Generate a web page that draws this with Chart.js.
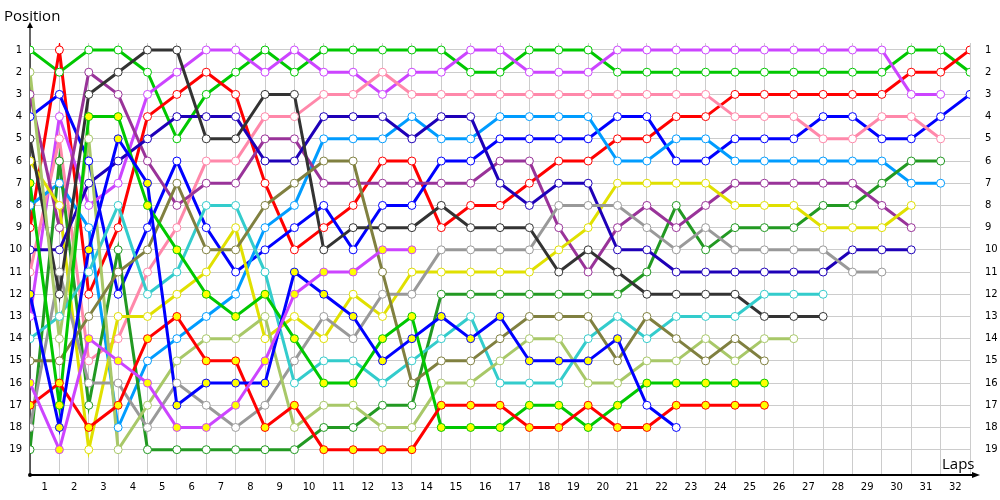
<!DOCTYPE html>
<html>
<head>
<meta charset="utf-8">
<script src="https://cdn.jsdelivr.net/npm/chart.js"></script>
<style>
  html, body { margin: 0; padding: 0; background: #fff; }
  #wrap { width: 1000px; height: 500px; }
</style>
</head>
<body>
<div id="wrap"><canvas id="lapChart"></canvas></div>
<script>
// lap labels under the axis and position labels on both sides
const lapLabels = ['1','2','3','4','5','6','7','8','9','10','11','12','13','14','15','16',
                   '17','18','19','20','21','22','23','24','25','26','27','28','29','30','31','32'];
const posLabels = [1,2,3,4,5,6,7,8,9,10,11,12,13,14,15,16,17,18,19];

// position per lap (index 0 = grid)
const posG1  = [1,2,1,1,2,5,3,2,1,2,1,1,1,1,1,2,2,1,1,1,2,2,2,2,2,2,2,2,2,2,1,1,2];
const posR1  = [9,1,12,9,4,3,2,3,7,10,9,8,6,6,9,8,8,7,6,6,5,5,4,4,3,3,3,3,3,3,2,2,1];
const posB1  = [4,3,6,12,9,6,9,11,10,9,8,10,8,8,6,6,5,5,5,5,4,4,6,6,5,5,5,4,4,5,5,4,3];
const posV1  = [13,4,8,7,3,2,1,1,2,1,2,2,3,2,2,1,1,2,2,2,1,1,1,1,1,1,1,1,1,1,3,3];
const posPK  = [11,5,15,14,11,9,6,6,4,4,3,3,2,3,3,3,3,3,3,3,3,3,3,3,4,4,4,5,5,4,4,5];
const posLB  = [8,7,9,18,15,14,13,12,9,8,5,5,5,4,5,5,4,4,4,4,6,6,5,5,6,6,6,6,6,6,7,7];
const posDG  = [19,6,17,10,19,19,19,19,19,19,18,18,17,17,12,12,12,12,12,12,12,11,8,10,9,9,9,8,8,7,6,6];
const posPU  = [3,9,2,3,6,8,7,7,5,5,7,7,7,7,7,7,6,6,9,11,9,8,9,8,7,7,7,7,7,8,9];
const posY   = [6,8,19,13,13,12,11,9,14,13,14,12,13,11,11,11,11,11,10,9,7,7,7,7,8,8,8,9,9,9,8];
const posDB  = [10,10,7,6,5,4,4,4,6,6,4,4,4,5,4,4,7,8,7,7,10,10,11,11,11,11,11,11,10,10,10];
const posGR  = [18,11,16,16,18,16,17,18,17,15,13,14,12,12,10,10,10,10,8,8,8,9,10,9,10,10,10,10,11,11];
const posK   = [5,12,3,2,1,1,5,5,3,3,10,9,9,9,8,9,9,9,11,10,11,12,12,12,12,13,13,13];
const posC   = [14,13,11,8,12,11,8,8,11,16,15,15,16,15,14,13,16,16,16,14,13,14,13,13,13,12,12,12];
const posLGr = [2,14,5,19,17,15,14,14,13,18,17,17,18,18,16,16,15,14,14,16,16,15,15,14,15,14,14];
const posO   = [15,15,13,11,10,7,10,10,8,7,6,6,11,16,15,15,14,13,13,13,15,13,14,15,14,15];
const posG2  = [7,17,4,4,8,10,12,13,12,14,16,16,14,13,18,18,18,17,17,18,17,16,16,16,16,16];
const posR2  = [17,16,18,17,14,13,15,15,18,17,19,19,19,19,17,17,17,18,18,17,18,18,17,17,17,17];
const posB2  = [12,18,10,5,7,17,16,16,16,11,12,13,15,14,13,14,13,15,15,15,14,17,18];
const posV2  = [16,19,14,15,16,18,18,17,15,12,11,11,10,10];

// line colour, and how many laps get the yellow marker
const drivers = [
  { pos: posV2,  color: '#cc44ff', yellow: 99 },
  { pos: posB2,  color: '#0000ff', yellow: 21 },
  { pos: posR2,  color: '#ff0000', yellow: 99 },
  { pos: posG2,  color: '#00c800', yellow: 99 },
  { pos: posO,   color: '#808040', yellow: 0 },
  { pos: posLGr, color: '#a8c868', yellow: 0 },
  { pos: posC,   color: '#33cccc', yellow: 0 },
  { pos: posK,   color: '#333333', yellow: 0 },
  { pos: posGR,  color: '#999999', yellow: 0 },
  { pos: posDB,  color: '#1e00b8', yellow: 0 },
  { pos: posY,   color: '#e0e000', yellow: 0 },
  { pos: posPU,  color: '#993399', yellow: 0 },
  { pos: posDG,  color: '#229922', yellow: 0 },
  { pos: posLB,  color: '#009cff', yellow: 0 },
  { pos: posPK,  color: '#ff88aa', yellow: 0 },
  { pos: posV1,  color: '#cc44ff', yellow: 0 },
  { pos: posB1,  color: '#0000ff', yellow: 0 },
  { pos: posR1,  color: '#ff0000', yellow: 0 },
  { pos: posG1,  color: '#00c800', yellow: 0 },
];

const tickFont = { family: "'DejaVu Sans', sans-serif", size: 10 };

let datasets = [];
drivers.forEach(d => {
  const pts = d.pos.map((p, i) => ({ x: i, y: p }));
  datasets.push({
    data: pts,
    borderColor: d.color,
    borderWidth: 3,
    pointRadius: 0,
    tension: 0,
    order: 2,
  });
  datasets.push({
    data: pts,
    showLine: false,
    pointRadius: 4,
    pointBorderWidth: 1,
    pointBorderColor: d.color,
    pointBackgroundColor: d.pos.map((p, i) => i < d.yellow ? '#ffff00' : '#ffffff'),
    order: 1,
  });
});

const axesPlugin = {
  id: 'axes',
  beforeDatasetsDraw(chart) {
    const { ctx, chartArea: a } = chart;
    ctx.save();
    ctx.strokeStyle = '#000';
    ctx.fillStyle = '#000';
    ctx.lineWidth = 1.2;
    ctx.beginPath();
    ctx.moveTo(a.left, 26);
    ctx.lineTo(a.left, a.bottom);
    ctx.stroke();
    ctx.lineWidth = 2;
    ctx.beginPath();
    ctx.moveTo(a.left, a.bottom);
    ctx.lineTo(974, a.bottom);
    ctx.stroke();
    // arrow heads
    ctx.beginPath();
    ctx.moveTo(a.left, 22); ctx.lineTo(a.left - 3, 28); ctx.lineTo(a.left + 3, 28);
    ctx.closePath(); ctx.fill();
    ctx.beginPath();
    ctx.moveTo(980, a.bottom); ctx.lineTo(972, a.bottom - 3); ctx.lineTo(972, a.bottom + 3);
    ctx.closePath(); ctx.fill();
    ctx.beginPath();
    ctx.arc(a.left, a.bottom, 2, 0, Math.PI * 2);
    ctx.fill();
    ctx.restore();
  },
  afterDraw(chart) {
    const ctx = chart.ctx;
    ctx.save();
    ctx.fillStyle = '#000';
    ctx.font = "15px 'Open Sans', sans-serif";
    ctx.textBaseline = 'alphabetic';
    ctx.fillText('Position', 4, 21);
    ctx.fillText('Laps', 942, 469);
    ctx.restore();
  }
};

const yTicks = {
  font: tickFont,
  color: '#000',
  padding: 8,
  autoSkip: false,
  callback: v => posLabels.includes(v) ? String(v) : '',
};

new Chart(document.getElementById('lapChart'), {
  type: 'line',
  data: { datasets: datasets },
  plugins: [axesPlugin],
  options: {
    responsive: true,
    maintainAspectRatio: false,
    animation: false,
    events: [],
    layout: { padding: { top: 43, left: 0, right: 0, bottom: 0 } },
    plugins: { legend: { display: false }, tooltip: { enabled: false } },
    scales: {
      x: {
        type: 'linear',
        min: 0,
        max: 32,
        afterBuildTicks: s => {
          const t = [];
          for (let i = 0; i <= lapLabels.length; i++) {
            t.push({ value: i });
            if (i < lapLabels.length) t.push({ value: i + 0.5 });
          }
          s.ticks = t;
        },
        afterFit: s => { s.height = 25; },
        border: { display: false },
        grid: {
          drawTicks: false,
          color: c => (c.tick && c.tick.value % 1 === 0) ? '#cccccc' : 'rgba(0,0,0,0)',
          lineWidth: 1,
        },
        ticks: {
          font: tickFont,
          color: '#000',
          padding: 6,
          autoSkip: false,
          maxRotation: 0,
          callback: v => (v % 1 === 0.5) ? lapLabels[v - 0.5] : '',
        },
      },
      y: {
        type: 'linear',
        position: 'left',
        reverse: true,
        min: 0.685,
        max: 20.14,
        afterBuildTicks: s => { s.ticks = posLabels.map(v => ({ value: v })); },
        afterFit: s => { s.width = 30; },
        border: { display: false },
        grid: { drawTicks: false, color: '#cccccc', lineWidth: 1 },
        ticks: yTicks,
      },
      yRight: {
        type: 'linear',
        position: 'right',
        reverse: true,
        min: 0.685,
        max: 20.14,
        afterBuildTicks: s => { s.ticks = posLabels.map(v => ({ value: v })); },
        afterFit: s => { s.width = 30; },
        border: { display: false },
        grid: { display: false },
        ticks: Object.assign({}, yTicks, { padding: 7 }),
      },
    },
  },
});
</script>
</body>
</html>
